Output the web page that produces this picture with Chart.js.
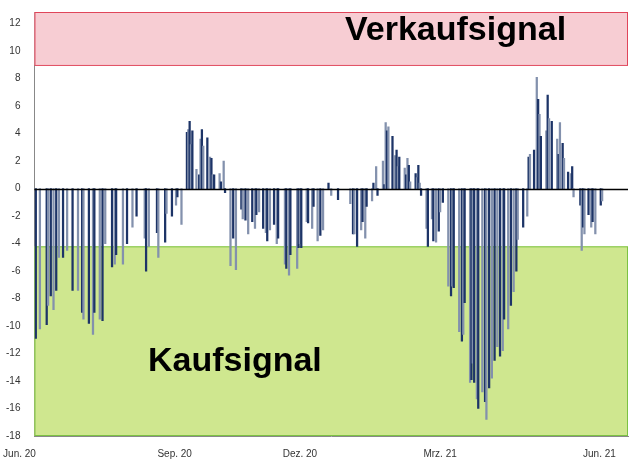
<!DOCTYPE html>
<html>
<head>
<meta charset="utf-8">
<script src="https://cdn.jsdelivr.net/npm/chart.js@4"></script>
<style>
  html, body { margin: 0; padding: 0; background: #fff; }
  #wrap { width: 629px; height: 470px; }
</style>
</head>
<body>
<div id="wrap"><canvas id="c"></canvas></div>
<script>
// day offsets from 1 Jun 2020 and oscillator values
const days = [
  -10, -7, -2, -1, 1, 3, 5, 7, 10, 13, 17, 21, 24, 25, 29, 32, 33, 37, 39, 41,
  46, 48, 49, 54, 57, 61, 64, 70, 71, 73, 79, 80, 85, 86, 90, 93, 94, 97,
  101, 102, 103, 104, 105, 108, 110, 111, 112, 113, 116, 118, 119, 120, 121, 125, 126, 128, 129,
  133, 135, 137, 141, 142, 144, 146, 149, 151, 152, 154, 157, 159, 160, 162, 165, 167, 168,
  173, 174, 176, 177, 182, 183, 184, 185, 189, 190, 193, 194, 197, 199, 201, 205, 207, 212,
  221, 223, 224, 226, 229, 230, 232, 233, 237, 238, 240, 241, 245, 246, 247, 248, 249, 252,
  254, 255, 256, 257, 261, 262, 263, 264, 265, 269, 270, 271, 272, 273, 277, 278, 281, 282,
  284, 286, 287, 289, 293, 295, 296, 297, 301, 303, 304, 305, 309, 310, 311, 312, 314, 315,
  318, 320, 321, 323, 325, 327, 329, 331, 333, 334, 337, 339, 341, 343, 344, 348, 351,
  352, 353, 356, 358, 359, 360, 361, 365, 366, 367, 369, 373, 374, 375, 377, 378, 381, 383,
  384, 385, 390, 391, 392, 393, 396, 398, 399, 401, 405, 406
];
const values = [
  -10.9, -10.2, -9.9, -8.5, -7.8, -8.8, -7.4, -5, -5, -4.5, -7.4, -7.4, -9, -9.5, -9.8, -10.6, -9, -9.5, -9.6, -4,
  -5.7, -5.5, -4.8, -5.5, -4, -2.8, -2, -3.6, -6, -4.2, -3.2, -5, -3.9, -1.8, -2, -1.2, -0.6, -2.6,
  4.1, 4.3, 4.9, 3.2, 4.2, 1.4, 1, 3.6, 4.3, 3.1, 3.7, 2.3, 2.2, 1, 1, 1.1, 0.5, 2, -0.3,
  -5.6, -3.6, -5.9, -1.5, -2.2, -2.3, -3.3, -2.4, -2.9, -1.9, -1.7, -2.9, -3.2, -3.8, -3, -2.6, -4, -3.6,
  -5.5, -5.8, -6.3, -4.8, -5.8, -4.3, -4, -4.3, -2.4, -2.5, -2.9, -1.3, -3.8, -3.4, -3, 0.4, -0.5, -0.8,
  -1.1, -3.3, -3.3, -4.2, -3, -2.4, -3.6, -1.3, -0.9, 0.4, 1.6, -0.5, 2, 0.3, 4.8, 4.2, 4.5, 3.8,
  2.4, 2.8, 1.6, 2.3, 1.5, 1, 2.2, 1.7, 0.5, 1.1, 0.8, 1.7, 0.4, -0.5, -2.9, -4.2, -2.2, -3.8,
  -3.9, -3.1, -1.7, -1, -7.1, -7.8, -7.1, -7.2, -10.4, -11.1, -10.6, -8.3, -14.1, -13.9, -12.7, -14.1, -15.3, -16,
  -14.8, -15.5, -16.8, -14.5, -13.8, -12.5, -11.5, -12.2, -11.8, -9.5, -10.2, -8.5, -7.5, -6, -3.7, -2.8, -2,
  2.3, 2.5, 2.8, 8.1, 6.5, 5.4, 3.8, 4.2, 6.8, 5.1, 4.9, 3.6, 2.5, 4.8, 3.3, 2.2, 1.2, 1.1,
  1.6, -0.6, -1.2, -4.5, -2.8, -3.3, -1.9, -2.8, -2.4, -3.3, -1.2, -0.9
];
const monthLabels = ['Jun. 20', 'Sep. 20', 'Dez. 20', 'Mrz. 21', 'Jun. 21'];
const monthDays = [-22, 92, 184, 287, 404];
const yTicks = [-18, -16, -14, -12, -10, -8, -6, -4, -2, 0, 2, 4, 6, 8, 10, 12];
const sellBand = [9, 12.85];
const buyBand = [-18, -4.2];

const bandsPlugin = {
  id: 'bands',
  beforeDatasetsDraw(chart) {
    const { ctx, chartArea: a, scales: { y } } = chart;
    ctx.save();
    const sTop = y.getPixelForValue(sellBand[1]), sBot = y.getPixelForValue(sellBand[0]);
    ctx.fillStyle = '#f7cdd3';
    ctx.fillRect(a.left, sTop, a.right - a.left, sBot - sTop);
    ctx.strokeStyle = '#e0455a';
    ctx.lineWidth = 1;
    ctx.strokeRect(a.left + 0.5, sTop + 0.5, a.right - a.left - 1, sBot - sTop);
    const bTop = y.getPixelForValue(buyBand[1]), bBot = y.getPixelForValue(buyBand[0]);
    ctx.fillStyle = '#cfe78f';
    ctx.fillRect(a.left, bTop, a.right - a.left, bBot - bTop);
    ctx.strokeStyle = '#7cc242';
    ctx.strokeRect(a.left + 0.5, bTop + 0.5, a.right - a.left - 1, bBot - bTop - 1);
    ctx.fillStyle = '#000';
    ctx.font = 'bold 34px "Liberation Sans", Arial, sans-serif';
    ctx.textBaseline = 'middle';
    ctx.fillText('Verkaufsignal', 345, 31);
    ctx.fillText('Kaufsignal', 148, 362);
    ctx.restore();
  },
  afterDatasetsDraw(chart) {
    const { ctx, chartArea: a, scales: { x, y } } = chart;
    ctx.save();
    const z = Math.round(y.getPixelForValue(0)) + 0.5;
    ctx.strokeStyle = '#000';
    ctx.lineWidth = 1.3;
    ctx.beginPath(); ctx.moveTo(a.left, z); ctx.lineTo(a.right, z); ctx.stroke();
    ctx.fillStyle = '#333';
    ctx.font = '10px "Liberation Sans", Arial, sans-serif';
    ctx.textAlign = 'center';
    ctx.textBaseline = 'top';
    monthDays.forEach((d, i) => ctx.fillText(monthLabels[i], x.getPixelForValue(d), a.bottom + 13));
    ctx.restore();
  }
};

new Chart(document.getElementById('c'), {
  type: 'bar',
  data: {
    datasets: [{
      data: days.map((d, i) => ({ x: d, y: values[i] })),
      backgroundColor: values.map((v, i) => (i % 2 ? '#8391ad' : '#1d3467')),
      barThickness: 1.6,
      borderWidth: 0
    }]
  },
  options: {
    responsive: true,
    maintainAspectRatio: false,
    animation: false,
    layout: { padding: { top: -11, right: 1, bottom: 26, left: 0 } },
    plugins: { legend: { display: false }, tooltip: { enabled: false } },
    scales: {
      x: {
        type: 'linear', min: -11, max: 425, offset: false,
        grid: { display: false, offset: false },
        border: { color: '#888' },
        ticks: { display: false }
      },
      y: {
        min: -18, max: 12.85,
        afterBuildTicks: (s) => { s.ticks = yTicks.map((v) => ({ value: v })); },
        grid: { display: false },
        border: { color: '#888' },
        ticks: { color: '#333', font: { size: 10, family: 'Liberation Sans' }, padding: 6 }
      }
    }
  },
  plugins: [bandsPlugin]
});
</script>
</body>
</html>
